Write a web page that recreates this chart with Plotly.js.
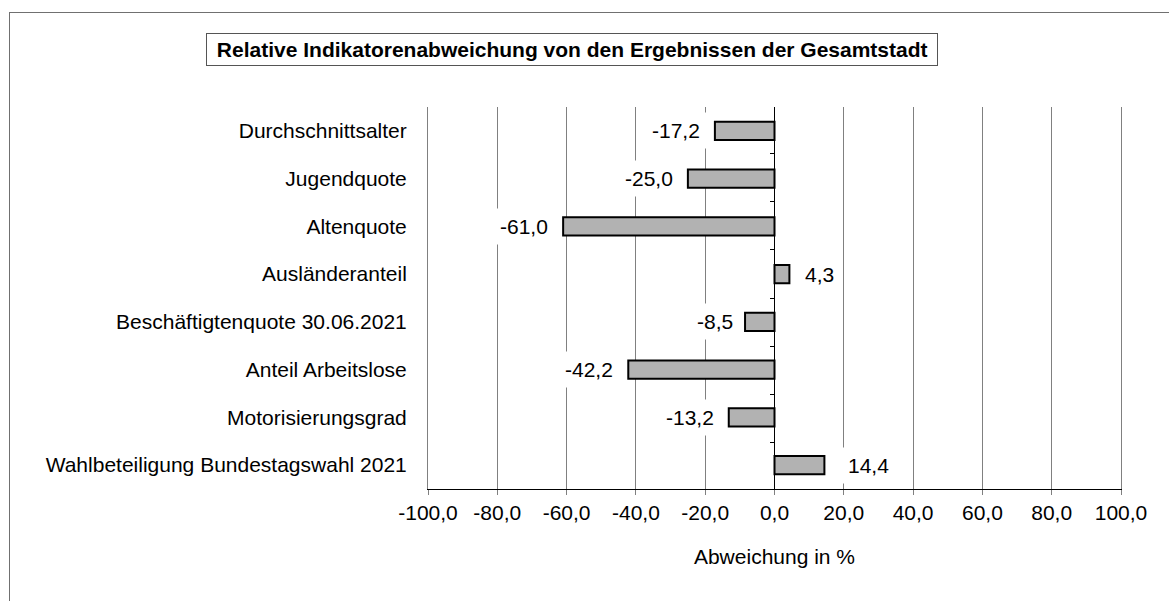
<!DOCTYPE html>
<html>
<head>
<meta charset="utf-8">
<script src="https://cdn.plot.ly/plotly-3.0.1.min.js"></script>
<style>
html,body{margin:0;padding:0;background:#fff;}
#wrap{position:relative;width:1169px;height:601px;overflow:hidden;}
#chart{position:absolute;left:0;top:0;width:1169px;height:601px;}
#frame{position:absolute;left:9px;top:12px;width:1300px;height:700px;border-left:1px solid #707070;border-top:1px solid #707070;pointer-events:none;}
</style>
</head>
<body>
<div id="wrap"><div id="chart"></div><div id="frame"></div></div>
<script>
const categories = [
  "Durchschnittsalter",
  "Jugendquote",
  "Altenquote",
  "Ausländeranteil",
  "Beschäftigtenquote 30.06.2021",
  "Anteil Arbeitslose",
  "Motorisierungsgrad",
  "Wahlbeteiligung Bundestagswahl 2021"
];
const values = [-17.2, -25.0, -61.0, 4.3, -8.5, -42.2, -13.2, 14.4];
const xTickValues = [-100, -80, -60, -40, -20, 0, 20, 40, 60, 80, 100];
const chartTitle = "Relative Indikatorenabweichung von den Ergebnissen der Gesamtstadt";
const xTitle = "Abweichung in %";

// label offsets (styling only, px beyond the default gap)
const labelExtraShift = [0, 0, 0, 0, 3, 0, 0, 8];

const FONT = "Liberation Sans, Arial, sans-serif";
const FS = 21;
const fmt = v => v.toFixed(1).replace('.', ',');

const traces = [
  {
    type: 'bar', orientation: 'h',
    x: values, y: categories,
    width: 0.38,
    marker: {color: '#b2b2b2', line: {color: '#000', width: 2}},
    hoverinfo: 'skip'
  },
  {
    type: 'scatter', mode: 'markers',
    x: values, y: categories, yaxis: 'y2',
    marker: {opacity: 0, size: 1},
    hoverinfo: 'skip', showlegend: false
  }
];

const annotations = values.map((v, i) => ({
  x: v, y: categories[i], xref: 'x', yref: 'y',
  text: fmt(v), showarrow: false,
  xanchor: v < 0 ? 'right' : 'left',
  xshift: v < 0 ? -8 + labelExtraShift[i] : 9 + labelExtraShift[i],
  bgcolor: '#fff', borderpad: 6,
  font: {family: FONT, size: FS, color: '#000'}
}));

annotations.push({
  xref: 'paper', yref: 'paper', x: 0.2085, y: 1.1505,
  xanchor: 'center', yanchor: 'middle',
  text: '&nbsp;<b>' + chartTitle + '</b>&nbsp;', showarrow: false,
  bgcolor: '#fff', bordercolor: '#555', borderwidth: 1, borderpad: 4,
  font: {family: FONT, size: FS, color: '#000'}
});

const layout = {
  width: 1169, height: 601,
  margin: {l: 428, r: 48, t: 107, b: 112, pad: 0},
  paper_bgcolor: '#fff', plot_bgcolor: '#fff',
  showlegend: false,
  separators: ',.',
  font: {family: FONT, size: FS, color: '#000'},
  xaxis: {
    range: [-100, 100], tickvals: xTickValues, ticktext: xTickValues.map(fmt),
    showgrid: true, gridcolor: '#808080', gridwidth: 1,
    zeroline: true, zerolinecolor: '#000', zerolinewidth: 1,
    showline: true, linecolor: '#000', linewidth: 1,
    ticks: 'outside', ticklen: 5, tickcolor: '#808080',
    tickfont: {family: FONT, size: FS, color: '#000'},
    title: {text: xTitle, font: {family: FONT, size: FS, color: '#000'}, standoff: 26},
    fixedrange: true
  },
  yaxis: {
    type: 'category', categoryorder: 'array', categoryarray: categories,
    autorange: 'reversed',
    showgrid: false, zeroline: false,
    showline: true, mirror: true, linecolor: '#808080', linewidth: 1,
    ticks: '',
    ticklabelstandoff: 16,
    tickfont: {family: FONT, size: FS, color: '#000'},
    fixedrange: true
  },
  yaxis2: {
    type: 'category', categoryorder: 'array', categoryarray: categories,
    autorange: 'reversed', overlaying: 'y', anchor: 'free', position: 0.5, side: 'left',
    showgrid: false, zeroline: false, showline: false,
    ticks: 'outside', tickson: 'boundaries', ticklen: 5, tickcolor: '#000', tickwidth: 1,
    showticklabels: false, fixedrange: true
  },
  annotations: annotations
};

Plotly.newPlot('chart', traces, layout, {displayModeBar: false, staticPlot: true});
</script>
</body>
</html>
